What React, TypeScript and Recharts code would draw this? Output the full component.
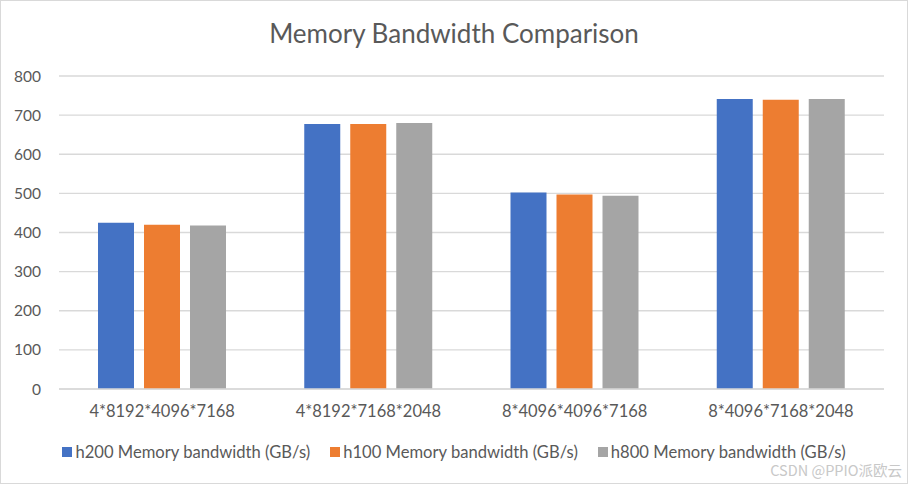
import { BarChart, Bar, XAxis, YAxis, CartesianGrid, Legend } from "recharts";

const categories = ["4*8192*4096*7168", "4*8192*7168*2048", "8*4096*4096*7168", "8*4096*7168*2048"];
const h200 = [425, 677, 502, 741];
const h100 = [420, 677, 497, 739];
const h800 = [418, 680, 494, 741];
const yTicks = [0, 100, 200, 300, 400, 500, 600, 700, 800];

const seriesNames = [
  "h200 Memory bandwidth (GB/s)",
  "h100 Memory bandwidth (GB/s)",
  "h800 Memory bandwidth (GB/s)",
];
const colors = ["#4472C4", "#ED7D31", "#A5A5A5"];

const data = categories.map((name, i) => ({
  name,
  h200: h200[i],
  h100: h100[i],
  h800: h800[i],
}));

const font = "Lato, 'Noto Sans', sans-serif";

const LegendContent = () => (
  <div
    style={{
      display: "flex",
      justifyContent: "center",
      fontFamily: font,
      fontSize: 16.6,
      lineHeight: "16px",
      color: "#595959",
    }}
  >
    {seriesNames.map((s, i) => (
      <div key={s} style={{ display: "flex", alignItems: "center", marginRight: i < 2 ? 20 : 0 }}>
        <span style={{ width: 10, height: 10, background: colors[i], display: "inline-block", marginRight: 3 }} />
        <span>{s}</span>
      </div>
    ))}
  </div>
);

export default function App() {
  return (
    <div
      style={{
        position: "absolute",
        left: 0,
        top: 0,
        width: 908,
        height: 484,
        background: "#fff",
        border: "1px solid #d9d9d9",
        boxSizing: "border-box",
        fontFamily: font,
      }}
    >
      <div
        style={{
          position: "absolute",
          top: 16,
          left: 0,
          width: 906,
          textAlign: "center",
          fontSize: 26,
          color: "#595959",
        }}
      >
        Memory Bandwidth Comparison
      </div>
      <BarChart
        width={906}
        height={482}
        data={data}
        margin={{ top: 75, right: 23, left: 13, bottom: 38 }}
        barGap={10}
        barCategoryGap={39}
      >
        <CartesianGrid stroke="#d9d9d9" strokeWidth={1.3} vertical={false} />
        <XAxis
          dataKey="name"
          tick={{ fontSize: 16.5, fill: "#595959", fontFamily: font }}
          tickLine={false}
          axisLine={{ stroke: "#d9d9d9", strokeWidth: 1.3 }}
          height={40}
          tickMargin={10}
        />
        <YAxis
          ticks={yTicks}
          domain={[0, 800]}
          tick={{ fontSize: 15.5, fill: "#595959", fontFamily: font }}
          tickLine={false}
          axisLine={false}
          width={45}
          tickMargin={12}
        />
        <Legend
          content={<LegendContent />}
          wrapperStyle={{ position: "absolute", top: 443, left: 0, width: 906 }}
        />
        <Bar dataKey="h200" name={seriesNames[0]} fill={colors[0]} isAnimationActive={false} />
        <Bar dataKey="h100" name={seriesNames[1]} fill={colors[1]} isAnimationActive={false} />
        <Bar dataKey="h800" name={seriesNames[2]} fill={colors[2]} isAnimationActive={false} />
      </BarChart>
      <div
        style={{
          position: "absolute",
          right: 5,
          top: 463,
          fontSize: 14.5,
          lineHeight: "12px",
          color: "#c8c8c8",
          fontFamily: "'Noto Sans CJK SC', 'Noto Sans', sans-serif",
        }}
      >
        CSDN @PPIO派欧云
      </div>
    </div>
  );
}
